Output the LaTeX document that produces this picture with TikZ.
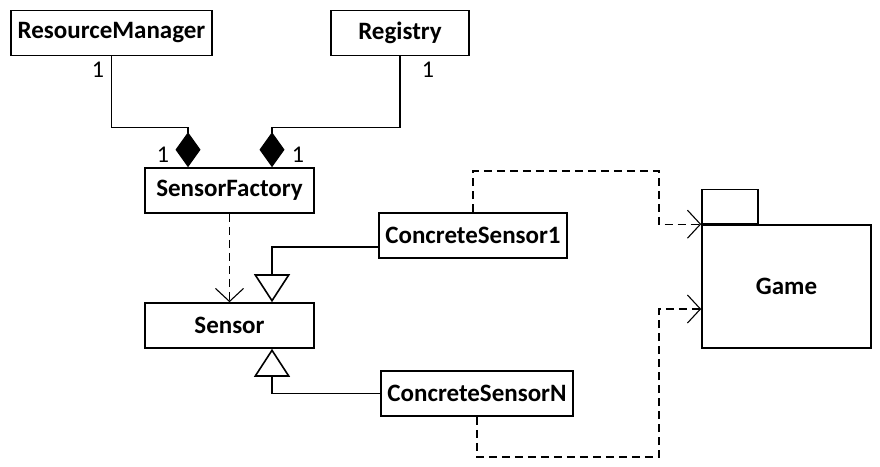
\documentclass[tikz,border=0pt]{standalone}
\usepackage{fontspec}
\setmainfont{Carlito}
\usepackage{tikz}
\usetikzlibrary{arrows.meta,positioning,calc}
\tikzset{
    >={Straight Barb[length=13pt,width=28pt]},
    every picture/.style={line width=1.1pt},
    umlclass/.style={rectangle,draw,line width=1.6pt,inner sep=0pt,minimum height=45pt,font=\fontsize{25}{30}\selectfont\bfseries}
}

\begin{document}
\begin{tikzpicture}[x=1pt,y=-1pt,
        mult/.style={inner sep=0pt,font=\fontsize{24}{28}\selectfont},
        compose/.style={-{Diamond[length=35pt,width=25pt,fill=black]}},
        inherit/.style={-{Triangle[open,length=28pt,width=36pt,line width=1.6pt]}},
        uses/.style={->,dash pattern=on 8pt off 5pt}
    ]
    \useasboundingbox (0,0) rectangle (880,466);
    \node[umlclass,minimum width=201pt] (resmgr) at (111.5,33) {ResourceManager};
    \node[umlclass,minimum width=138pt] (registry) at (400,33) {Registry};
    \node[umlclass,minimum width=169pt] (factory) at (229.5,190.5) {SensorFactory};
    \node[umlclass,minimum width=169pt] (sensor) at (229.5,325.5) {Sensor};
    \node[umlclass,minimum width=188pt] (concrete1) at (473,235.5) {ConcreteSensor1};
    \node[umlclass,minimum width=192pt] (concreteN) at (477,393.5) {ConcreteSensorN};
    \node[umlclass,minimum width=169pt,minimum height=123pt] (game) at (786.5,286.5) {Game};
    \node[umlclass,minimum width=56pt,minimum height=34pt,anchor=south west] (gametab) at (game.north west) {};

    \node[mult] (m1) at (98,70) {1};
    \node[mult] (m2) at (428,70) {1};
    \node[mult] (m3) at (163,155) {1};
    \node[mult] (m4) at (298,155) {1};

    \coordinate (bend1) at (659,171);
    \coordinate (bend2) at (659,457);

    \draw[compose] (resmgr.south) -- ++(0,71) -| ([xshift=-41.5pt]factory.north);
    \draw[compose] (registry.south) -- ++(0,71) -| ([xshift=42.5pt]factory.north);
    \draw[uses] (factory.south) -- (sensor.north);
    \draw[inherit] ([yshift=-11.5pt]concrete1.west) -| ([xshift=42.5pt]sensor.north);
    \draw[inherit] (concreteN.west) -| ([xshift=42.5pt]sensor.south);
    \draw[uses] (concrete1.north) |- (bend1) |- (game.north west);
    \draw[uses] (concreteN.south) |- (bend2) |- ([yshift=-22.5pt]game.west);
\end{tikzpicture}
\end{document}
